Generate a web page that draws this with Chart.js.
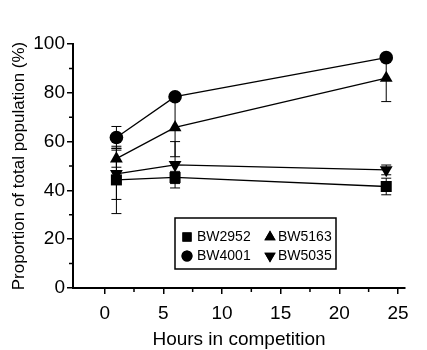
<!DOCTYPE html>
<html>
<head>
<meta charset="utf-8">
<script src="https://cdn.jsdelivr.net/npm/chart.js@4"></script>
<style>
  html, body { margin: 0; padding: 0; background: #fff; }
  #wrap { width: 427px; height: 350px; }
</style>
</head>
<body>
<div id="wrap"><canvas id="compChart" width="427" height="350"></canvas></div>
<script>
const hours = [1, 6, 24];
const xTicks = [0, 5, 10, 15, 20, 25];
const yTicks = [0, 20, 40, 60, 80, 100];

const bw2952 = [44.3, 45.3, 41.6];
const bw2952Err = [13.8, 2.5, 3.4];
const bw4001 = [61.7, 78.4, 94.4];
const bw4001Err = [4.5, 1, 1];
const bw5163 = [53, 65.8, 86];
const bw5163Err = [3.5, 12, 9.6];
const bw5035 = [46.8, 50.5, 48.4];
const bw5035Err = [10.5, 9.5, 2];

const FONT = "'Liberation Sans', Arial, sans-serif";

function series(label, values, errs, style, radius, rotation) {
  return {
    label,
    data: hours.map((h, i) => ({ x: h, y: values[i] })),
    errs,
    borderColor: '#000',
    backgroundColor: '#000',
    borderWidth: 1.3,
    pointStyle: style,
    pointRadius: radius,
    pointHoverRadius: radius,
    pointRotation: rotation || 0,
    pointBorderWidth: 0,
    tension: 0
  };
}

const datasets = [
  series('BW2952', bw2952, bw2952Err, 'rect', 7.8),
  series('BW4001', bw4001, bw4001Err, 'circle', 6.8),
  series('BW5163', bw5163, bw5163Err, 'triangle', 7.4),
  series('BW5035', bw5035, bw5035Err, 'triangle', 7.4, 180)
];

// error bars + minor ticks, drawn under the markers
const errorBars = {
  id: 'errorBars',
  beforeDatasetsDraw(chart) {
    const { ctx, scales: { x, y } } = chart;
    ctx.save();
    ctx.strokeStyle = '#000';
    ctx.lineWidth = 1;
    chart.data.datasets.forEach(ds => {
      ds.data.forEach((p, i) => {
        const e = ds.errs[i];
        const px = x.getPixelForValue(p.x);
        const top = y.getPixelForValue(p.y + e);
        const bot = y.getPixelForValue(p.y - e);
        ctx.beginPath();
        ctx.moveTo(px, top); ctx.lineTo(px, bot);
        ctx.moveTo(px - 5, top); ctx.lineTo(px + 5, top);
        ctx.moveTo(px - 5, bot); ctx.lineTo(px + 5, bot);
        ctx.stroke();
      });
    });
    ctx.restore();
  },
  afterDraw(chart) {
    const { ctx, scales: { x, y } } = chart;
    ctx.save();
    ctx.strokeStyle = '#000';
    ctx.lineWidth = 1.5;
    ctx.beginPath();
    for (let v = 2.5; v < 25; v += 5) {
      const px = x.getPixelForValue(v);
      ctx.moveTo(px, y.bottom); ctx.lineTo(px, y.bottom + 4);
    }
    for (let v = 10; v < 100; v += 20) {
      const py = y.getPixelForValue(v);
      ctx.moveTo(x.left, py); ctx.lineTo(x.left - 4, py);
    }
    ctx.stroke();

    // legend box inside the plot
    const bx = 175, by = 218, bw = 161, bh = 51;
    ctx.lineWidth = 1.5;
    ctx.strokeRect(bx, by, bw, bh);
    ctx.font = '14px ' + FONT;
    ctx.fillStyle = '#000';
    ctx.textBaseline = 'middle';
    const items = [
      { ds: 0, mx: 187, tx: 197, ty: 237 },
      { ds: 2, mx: 270, tx: 278, ty: 237 },
      { ds: 1, mx: 187, tx: 197, ty: 256 },
      { ds: 3, mx: 270, tx: 278, ty: 256 }
    ];
    items.forEach(it => {
      const ds = chart.data.datasets[it.ds];
      const r = ds.pointStyle === 'circle' ? 5.5 : 6.5;
      Chart.helpers.drawPoint(ctx, {
        pointStyle: ds.pointStyle,
        rotation: ds.pointRotation,
        radius: r,
        borderWidth: 0
      }, it.mx, it.ty);
      ctx.fillStyle = '#000';
      ctx.fill();
      ctx.fillText(ds.label, it.tx, it.ty);
    });
    ctx.restore();
  }
};

new Chart(document.getElementById('compChart').getContext('2d'), {
  type: 'line',
  data: { datasets },
  options: {
    responsive: false,
    animation: false,
    devicePixelRatio: 1,
    layout: { padding: { top: 44, right: 22, bottom: 0, left: 0 } },
    plugins: {
      legend: { display: false },
      tooltip: { enabled: false }
    },
    scales: {
      x: {
        type: 'linear',
        min: -2.7,
        max: 25.6,
        afterBuildTicks: s => { s.ticks = xTicks.map(v => ({ value: v })); },
        afterFit: s => { s.height = 62; },
        grid: { drawOnChartArea: false, drawTicks: true, tickLength: 6, color: '#000', lineWidth: 1.5 },
        border: { color: '#000', width: 2 },
        ticks: { color: '#000', font: { family: FONT, size: 19 }, padding: 8, maxRotation: 0 },
        title: { display: true, text: 'Hours in competition', color: '#000', font: { family: FONT, size: 19 }, padding: { top: 0, bottom: -1 } }
      },
      y: {
        min: 0,
        max: 100,
        afterBuildTicks: s => { s.ticks = yTicks.map(v => ({ value: v })); },
        afterFit: s => { s.width = 73; },
        grid: { drawOnChartArea: false, drawTicks: true, tickLength: 6, color: '#000', lineWidth: 1.5 },
        border: { color: '#000', width: 2 },
        ticks: { color: '#000', font: { family: FONT, size: 19 }, padding: 2 },
        title: { display: true, text: 'Proportion of total population (%)', color: '#000', font: { family: FONT, size: 17 }, padding: { top: 9, bottom: 0 } }
      }
    }
  },
  plugins: [errorBars]
});
</script>
</body>
</html>
